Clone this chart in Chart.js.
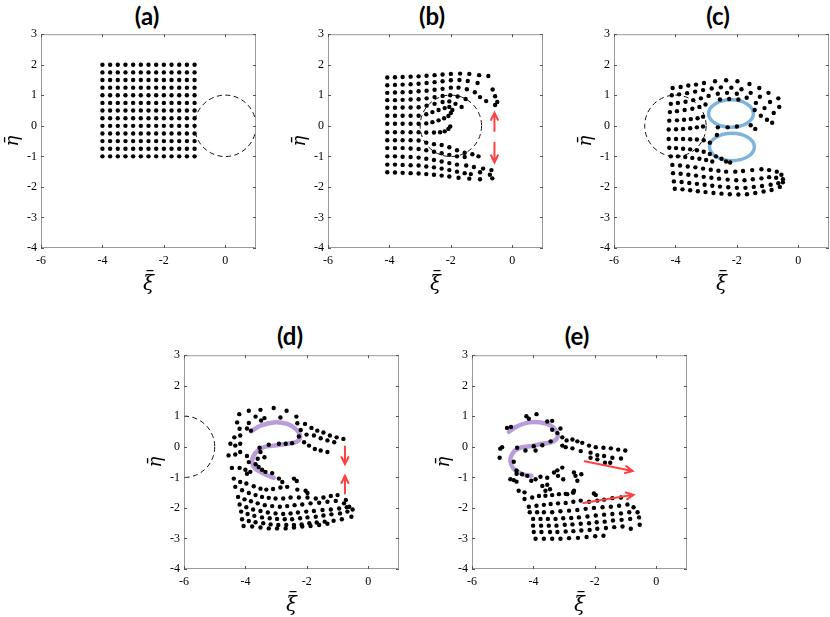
<!DOCTYPE html>
<html>
<head>
<meta charset="utf-8">
<script src="https://cdn.jsdelivr.net/npm/chart.js@4.4.0/dist/chart.umd.min.js"></script>
<style>
  body { margin: 0; width: 830px; height: 617px; background: #fff; position: relative; overflow: hidden; }
  canvas { position: absolute; }
  .ttl { position: absolute; font: bold 24px Lato, "Liberation Sans", sans-serif; transform: translate(-50%, -50%); color: #000; }
</style>
</head>
<body>
<div class="ttl" style="left:147px;top:15px">(a)</div>
<div class="ttl" style="left:432px;top:15px">(b)</div>
<div class="ttl" style="left:718px;top:15px">(c)</div>
<div class="ttl" style="left:290px;top:335px">(d)</div>
<div class="ttl" style="left:577px;top:335px">(e)</div>

<canvas id="pa" width="269" height="277" style="left:-3px;top:23px"></canvas>
<canvas id="pb" width="269" height="277" style="left:284px;top:23px"></canvas>
<canvas id="pc" width="269" height="277" style="left:570px;top:23px"></canvas>
<canvas id="pd" width="269" height="277" style="left:140px;top:344px"></canvas>
<canvas id="pe" width="269" height="277" style="left:428px;top:344px"></canvas>

<script>
// axes
const xTicks = [-6, -4, -2, 0];
const yTicks = [-4, -3, -2, -1, 0, 1, 2, 3];

// (a) initial square grid
const gridColsA = [-4, -3.75, -3.5, -3.25, -3, -2.75, -2.5, -2.25, -2, -1.75, -1.5, -1.25, -1];
const gridRowsA = [2, 1.75, 1.5, 1.25, 1, 0.75, 0.5, 0.25, 0, -0.25, -0.5, -0.75, -1];

// (b)
const pointsB = [
  [-4.07,1.58],[-3.82,1.59],[-3.57,1.60],[-3.31,1.61],[-3.05,1.62],[-2.79,1.64],[-2.53,1.66],[-2.27,1.68],[-2.00,1.70],[-1.70,1.71],[-1.40,1.70],[-1.08,1.66],[-0.78,1.63],
  [-4.07,1.33],[-3.82,1.34],[-3.57,1.35],[-3.31,1.36],[-3.05,1.38],[-2.79,1.40],[-2.53,1.43],[-2.27,1.46],[-2.00,1.49],[-1.72,1.50],[-1.45,1.47],[-1.13,1.40],[-0.64,1.19],
  [-4.07,1.08],[-3.82,1.09],[-3.57,1.10],[-3.31,1.11],[-3.05,1.13],[-2.79,1.15],[-2.53,1.18],[-2.27,1.21],[-2.00,1.25],[-1.75,1.25],[-1.48,1.20],[-1.22,1.10],[-0.56,0.97],
  [-4.07,0.84],[-3.82,0.84],[-3.57,0.85],[-3.31,0.86],[-3.05,0.87],[-2.79,0.90],[-2.53,0.94],[-2.27,0.98],[-2.02,1.00],[-1.78,0.96],[-1.52,0.88],[-1.05,0.94],[-0.49,0.78],
  [-4.07,0.59],[-3.82,0.59],[-3.57,0.60],[-3.31,0.60],[-3.05,0.61],[-2.79,0.66],[-2.53,0.72],[-2.27,0.78],[-2.05,0.80],[-1.85,0.72],[-1.65,0.62],[-0.85,0.81],[-0.56,0.68],
  [-4.07,0.33],[-3.82,0.33],[-3.57,0.33],[-3.31,0.33],[-3.05,0.33],[-2.80,0.38],[-2.60,0.45],[-2.40,0.52],[-2.20,0.58],[-2.05,0.62],[-1.95,0.52],
  [-4.07,0.07],[-3.82,0.07],[-3.57,0.07],[-3.31,0.07],[-3.05,0.07],[-2.80,0.08],[-2.60,0.12],[-2.40,0.18],[-2.22,0.25],[-2.08,0.32],[-2.00,0.42],
  [-4.07,-0.21],[-3.82,-0.21],[-3.57,-0.21],[-3.31,-0.21],[-3.05,-0.21],[-2.80,-0.22],[-2.55,-0.22],[-2.35,-0.21],[-2.20,-0.18],[-2.08,-0.10],[-2.02,-0.02],
  [-4.07,-0.47],[-3.82,-0.47],[-3.57,-0.47],[-3.31,-0.47],[-3.05,-0.48],[-2.80,-0.55],[-2.55,-0.60],[-2.30,-0.63],[-2.05,-0.70],[-1.80,-0.80],[-1.55,-0.88],[-1.30,-0.93],
  [-4.07,-0.73],[-3.82,-0.73],[-3.57,-0.73],[-3.31,-0.74],[-3.05,-0.76],[-2.80,-0.80],[-2.55,-0.85],[-2.30,-0.90],[-2.05,-0.95],[-1.80,-1.00],[-1.55,-1.02],[-1.10,-1.00],
  [-4.07,-1.00],[-3.82,-1.00],[-3.57,-1.01],[-3.31,-1.02],[-3.05,-1.04],[-2.80,-1.08],[-2.55,-1.12],[-2.30,-1.17],[-2.05,-1.22],[-1.80,-1.27],[-1.50,-1.30],[-1.25,-1.35],[-0.95,-1.40],[-0.68,-1.45],
  [-4.07,-1.27],[-3.82,-1.27],[-3.57,-1.28],[-3.31,-1.29],[-3.05,-1.30],[-2.80,-1.33],[-2.55,-1.36],[-2.30,-1.40],[-2.05,-1.45],[-1.80,-1.50],[-1.55,-1.55],[-1.35,-1.58],[-1.05,-1.52],[-0.73,-1.60],
  [-4.07,-1.52],[-3.82,-1.53],[-3.57,-1.54],[-3.31,-1.55],[-3.05,-1.56],[-2.80,-1.58],[-2.55,-1.60],[-2.30,-1.63],[-2.05,-1.66],[-1.75,-1.70],[-1.40,-1.73],[-1.05,-1.75],[-0.65,-1.72]
];

// (c)
const pointsC = [
  [-4.09,1.24],[-3.83,1.27],[-3.58,1.32],[-3.33,1.35],[-3.07,1.40],[-2.71,1.46],[-2.35,1.49],[-1.98,1.46],[-1.59,1.37],[-1.27,1.24],[-0.97,1.08],[-0.65,0.90],
  [-4.12,1.00],[-3.88,1.03],[-3.62,1.07],[-3.36,1.12],[-3.10,1.17],[-2.82,1.22],[-2.52,1.26],[-2.18,1.25],[-1.85,1.20],[-1.55,1.08],[-1.25,0.95],[-0.92,0.78],[-0.62,0.62],
  [-4.15,0.72],[-3.92,0.75],[-3.67,0.79],[-3.42,0.84],[-3.17,0.90],[-2.92,0.98],[-2.62,1.05],[-2.32,1.08],[-2.00,1.05],[-1.68,0.92],[-1.38,0.75],[-1.10,0.58],[-0.80,0.42],
  [-4.18,0.45],[-3.95,0.48],[-3.70,0.52],[-3.45,0.56],[-3.22,0.62],[-3.02,0.70],[-2.55,0.86],[-2.25,0.88],[-1.95,0.86],[-1.42,0.52],[-1.22,0.33],[-1.02,0.20],[-0.85,0.10],
  [-4.20,0.17],[-3.95,0.18],[-3.72,0.20],[-3.50,0.22],[-3.28,0.25],[-3.10,0.30],
  [-4.22,-0.12],[-3.98,-0.11],[-3.75,-0.10],[-3.52,-0.08],[-3.30,-0.05],[-3.10,-0.02],[-2.62,-0.05],[-2.30,-0.05],[-2.00,-0.02],[-1.55,0.02],[-1.40,-0.10],
  [-4.22,-0.43],[-3.98,-0.43],[-3.75,-0.43],[-3.52,-0.44],[-3.30,-0.45],[-3.08,-0.47],[-2.88,-0.55],[-2.65,-0.30],
  [-4.20,-0.72],[-3.98,-0.73],[-3.75,-0.75],[-3.52,-0.77],[-3.30,-0.80],[-3.08,-0.85],[-2.88,-0.92],[-2.68,-1.00],[-2.50,-1.08],[-2.35,-1.17],[-2.22,-1.20],
  [-4.15,-1.00],[-3.92,-1.00],[-3.68,-1.02],[-3.45,-1.05],[-3.22,-1.08],[-3.00,-1.12],[-2.80,-1.17],
  [-4.10,-1.28],[-3.85,-1.30],[-3.60,-1.33],[-3.35,-1.36],[-3.10,-1.40],[-2.85,-1.44],[-2.60,-1.47],[-2.35,-1.50],[-2.05,-1.50],[-1.80,-1.48],[-1.50,-1.45],[-1.20,-1.42],[-0.95,-1.45],[-0.70,-1.50],[-0.55,-1.60],
  [-4.08,-1.55],[-3.83,-1.57],[-3.58,-1.60],[-3.33,-1.63],[-3.08,-1.67],[-2.83,-1.70],[-2.58,-1.73],[-2.30,-1.76],[-2.02,-1.78],[-1.75,-1.78],[-1.48,-1.75],[-1.20,-1.72],[-0.95,-1.68],[-0.72,-1.70],[-0.50,-1.75],
  [-4.05,-1.82],[-3.80,-1.84],[-3.55,-1.87],[-3.30,-1.90],[-3.05,-1.93],[-2.80,-1.96],[-2.55,-1.99],[-2.28,-2.01],[-2.00,-2.03],[-1.72,-2.03],[-1.45,-2.00],[-1.18,-1.97],[-0.90,-1.93],[-0.65,-1.88],[-0.50,-1.85],
  [-4.02,-2.06],[-3.77,-2.08],[-3.52,-2.11],[-3.27,-2.14],[-3.02,-2.17],[-2.76,-2.20],[-2.50,-2.22],[-2.23,-2.24],[-1.95,-2.25],[-1.67,-2.24],[-1.40,-2.20],[-1.13,-2.15],[-0.87,-2.10],[-0.60,-2.00]
];

// (d)
const pointsD = [
  [-4.20,1.07],[-3.89,1.18],[-3.51,1.21],[-3.08,1.27],[-2.66,1.18],
  [-3.67,0.99],[-3.38,0.94],[-2.86,0.96],[-2.34,0.99],
  [-4.27,0.80],[-3.89,0.78],[-3.49,0.86],[-2.31,0.77],[-2.06,0.75],[-1.85,0.62],[-1.66,0.53],[-1.46,0.47],[-1.25,0.37],[-1.03,0.31],[-0.81,0.26],
  [-4.19,0.59],[-3.95,0.60],[-2.20,0.55],[-2.01,0.40],[-1.77,0.37],[-1.55,0.28],[-1.33,0.21],[-1.11,0.15],
  [-4.36,0.31],[-4.17,0.37],[-3.82,0.53],[-2.26,0.34],[-2.09,0.15],[-1.93,0.04],[-1.74,-0.07],[-1.55,-0.12],[-1.33,-0.17],
  [-4.49,0.10],[-4.33,0.04],[-4.17,0.10],[-3.54,-0.03],[-3.24,0.07],[-2.91,0.10],[-2.69,0.10],[-2.48,0.12],
  [-4.55,-0.28],[-4.33,-0.25],[-4.17,-0.17],[-3.95,-0.30],[-3.51,-0.17],[-3.38,-0.34],[-3.60,-0.39],
  [-4.44,-0.69],[-4.19,-0.69],[-4.00,-0.75],[-3.84,-0.82],[-3.57,-0.66],[-3.46,-0.75],[-3.35,-0.82],[-3.13,-0.86],
  [-3.89,-0.50],[-3.67,-0.57],[-3.95,-0.88],
  [-2.91,-1.04],[-2.80,-1.15],[-2.42,-1.04],[-2.33,-1.12],
  [-4.38,-1.04],[-4.17,-1.15],[-3.97,-1.20],[-3.73,-1.29],[-3.51,-1.37],[-3.32,-1.40],[-3.10,-1.38],[-2.86,-1.33],[-2.64,-1.31],[-2.31,-1.40],[-2.04,-1.44],[-1.98,-1.51],
  [-4.33,-1.31],[-4.11,-1.42],[-3.89,-1.51],[-3.67,-1.58],[-3.46,-1.64],[-3.24,-1.67],[-3.02,-1.69],[-2.77,-1.69],[-2.53,-1.66],[-2.26,-1.66],[-1.98,-1.66],[-1.71,-1.69],[-1.46,-1.66],[-1.22,-1.61],[-1.00,-1.58],[-0.73,-1.74],
  [-4.24,-1.64],[-4.03,-1.72],[-3.82,-1.78],[-3.60,-1.85],[-3.37,-1.91],[-3.13,-1.94],[-2.88,-1.96],[-2.64,-1.94],[-2.40,-1.91],[-2.15,-1.89],[-1.88,-1.85],[-1.60,-1.83],[-1.33,-1.80],[-1.06,-1.77],[-0.79,-1.85],[-0.62,-1.96],
  [-4.19,-1.89],[-3.97,-1.98],[-3.75,-2.05],[-3.51,-2.10],[-3.27,-2.15],[-3.02,-2.18],[-2.77,-2.20],[-2.53,-2.18],[-2.29,-2.15],[-2.02,-2.12],[-1.77,-2.10],[-1.49,-2.07],[-1.22,-2.05],[-0.95,-2.02],[-0.70,-1.98],[-0.51,-2.05],
  [-4.14,-2.12],[-3.93,-2.20],[-3.71,-2.26],[-3.46,-2.31],[-3.21,-2.34],[-2.97,-2.36],[-2.72,-2.37],[-2.48,-2.37],[-2.22,-2.34],[-1.98,-2.31],[-1.71,-2.29],[-1.46,-2.25],[-1.20,-2.21],[-0.92,-2.18],[-0.68,-2.12],
  [-4.11,-2.37],[-3.89,-2.43],[-3.67,-2.47],[-3.42,-2.50],[-3.18,-2.54],[-2.93,-2.56],[-2.67,-2.56],[-2.42,-2.56],[-2.17,-2.54],[-1.92,-2.50],[-1.68,-2.48],[-1.42,-2.45],[-1.13,-2.42],[-0.86,-2.37],[-0.55,-2.29],
  [-4.06,-2.59],[-3.78,-2.61],[-3.51,-2.64],[-3.24,-2.67],[-2.97,-2.67],[-2.69,-2.67],[-2.42,-2.64],[-2.15,-2.61],[-1.88,-2.59],[-1.60,-2.56],[-1.33,-2.52]
];

// (e)
const pointsE = [
  [-4.86,0.62],[-4.73,0.65],[-4.23,1.00],[-4.15,0.92],[-3.90,1.07],[-3.55,0.83],[-3.39,0.85],[-3.12,0.60],[-3.22,0.45],[-3.39,0.56],
  [-5.02,-0.01],[-5.08,-0.06],[-5.10,-0.36],
  [-4.53,-0.03],[-4.26,-0.12],[-3.99,0.02],[-3.93,-0.12],[-3.71,0.05],[-3.44,0.18],
  [-3.06,0.31],[-2.92,0.21],[-2.73,0.24],[-2.57,0.18],[-2.41,0.13],[-2.19,0.04],[-1.97,-0.01],[-1.72,-0.03],[-1.48,-0.05],[-1.24,-0.09],[-1.01,-0.12],
  [-3.06,0.04],[-2.95,-0.01],[-2.73,-0.05],[-2.46,-0.14],[-2.14,-0.19],[-1.92,-0.27],[-1.70,-0.30],[-1.43,-0.36],[-1.15,-0.38],
  [-2.14,-0.36],[-1.92,-0.41],[-1.67,-0.52],[-1.50,-0.52],
  [-4.64,-0.49],[-4.55,-0.77],[-4.55,-0.88],[-4.64,-1.09],[-4.55,-1.14],[-4.75,-1.06],[-4.48,-1.44],[-4.29,-1.49],
  [-4.37,-0.90],[-4.20,-0.95],[-4.07,-1.11],[-3.93,-1.06],[-3.77,-0.98],[-3.55,-1.01],[-3.71,-1.28],[-3.55,-1.24],[-3.46,-1.39],[-3.61,-1.44],
  [-3.33,-0.84],[-3.22,-0.77],[-3.06,-0.68],[-3.20,-0.95],[-3.03,-1.06],[-2.68,-0.84],[-2.63,-0.95],[-2.44,-0.90],[-2.57,-1.11],[-2.68,-1.44],[-2.71,-1.49],[-2.90,-1.55],
  [-2.03,-1.53],[-1.97,-1.58],
  [-4.29,-1.71],[-4.04,-1.66],[-3.82,-1.61],[-3.61,-1.60],[-3.39,-1.58],[-3.17,-1.55],[-2.95,-1.54],[-2.70,-1.50],
  [-4.15,-1.96],[-3.90,-1.93],[-3.66,-1.90],[-3.44,-1.87],[-3.20,-1.85],[-2.95,-1.84],[-2.70,-1.80],[-2.46,-1.76],[-2.19,-1.80],[-1.92,-1.76],[-1.70,-1.73],[-1.43,-1.68],[-1.15,-1.66],
  [-4.12,-2.14],[-3.88,-2.14],[-3.66,-2.14],[-3.39,-2.14],[-3.12,-2.11],[-2.84,-2.09],[-2.57,-2.07],[-2.30,-2.03],[-2.03,-2.00],[-1.75,-1.98],[-1.48,-1.96],[-1.21,-1.93],[-0.94,-1.89],[-0.74,-1.98],[-0.61,-2.14],
  [-4.01,-2.36],[-3.77,-2.36],[-3.53,-2.36],[-3.28,-2.36],[-3.03,-2.34],[-2.77,-2.33],[-2.52,-2.31],[-2.24,-2.28],[-1.97,-2.25],[-1.70,-2.22],[-1.43,-2.20],[-1.15,-2.18],[-0.88,-2.14],[-0.56,-2.31],
  [-4.01,-2.58],[-3.75,-2.58],[-3.50,-2.58],[-3.25,-2.58],[-2.98,-2.55],[-2.73,-2.54],[-2.46,-2.52],[-2.19,-2.50],[-1.94,-2.47],[-1.68,-2.45],[-1.41,-2.41],[-1.13,-2.39],[-0.85,-2.36],[-0.54,-2.55],
  [-3.99,-2.79],[-3.74,-2.79],[-3.46,-2.79],[-3.22,-2.79],[-2.95,-2.77],[-2.70,-2.76],[-2.44,-2.74],[-2.17,-2.72],[-1.92,-2.68],[-1.64,-2.66],[-1.37,-2.63],[-1.10,-2.61],[-0.83,-2.68],
  [-3.93,-3.01],[-3.66,-3.01],[-3.39,-3.01],[-3.12,-3.01],[-2.84,-2.99],[-2.55,-2.98],[-2.27,-2.95],[-1.99,-2.93],[-1.72,-2.91]
];

// dashed cylinder outlines: [cx, cy, r]
const circlesA = [[0, 0, 1]];
const circlesB = [[-2, 0, 1]];
const circlesC = [[-4, 0, 1]];
const circlesD = [[-6, 0, 1]];

// blue vortex loops in (c): [cx, cy, rx, ry]
const ellipsesC = [[-2.19, 0.40, 0.73, 0.45], [-2.16, -0.69, 0.73, 0.45]];

// purple S-curves
const curveD = [[-3.81,0.51],[-3.51,0.69],[-3.08,0.80],[-2.64,0.75],[-2.37,0.59],[-2.22,0.37],[-2.31,0.18],[-2.64,0.10],[-3.08,0.04],[-3.46,-0.03],[-3.68,-0.21],[-3.78,-0.44],[-3.73,-0.66],[-3.51,-0.82],[-3.29,-0.93],[-3.08,-1.01]];
const curveE = [[-4.80,0.49],[-4.53,0.67],[-4.15,0.80],[-3.77,0.80],[-3.44,0.70],[-3.25,0.51],[-3.22,0.31],[-3.39,0.16],[-3.71,0.10],[-4.10,0.02],[-4.48,-0.05],[-4.69,-0.23],[-4.75,-0.47],[-4.66,-0.70],[-4.48,-0.84],[-4.26,-0.92],[-4.07,-0.95]];

// red arrows: [x0, y0, x1, y1]
const arrowsB = [[-0.58, -0.17, -0.58, 0.43], [-0.58, -0.55, -0.58, -1.20]];
const arrowsD = [[-0.76, 0.01, -0.76, -0.57], [-0.76, -1.53, -0.76, -0.95]];
const arrowsE = [[-2.33, -0.47, -0.77, -0.79], [-2.37, -1.84, -0.74, -1.57]];

const overlay = {
  id: 'overlay',
  beforeDatasetsDraw(chart, args, opts) {
    const { ctx, chartArea: a, scales: { x, y } } = chart;
    ctx.save();
    ctx.beginPath();
    ctx.rect(a.left, a.top, a.width, a.height);
    ctx.clip();
    (opts.circles || []).forEach(c => {
      const cx = x.getPixelForValue(c[0]);
      const cy = y.getPixelForValue(c[1]);
      const r = x.getPixelForValue(c[0] + c[2]) - cx;
      ctx.beginPath();
      ctx.setLineDash([5, 3.5]);
      ctx.lineWidth = 1;
      ctx.strokeStyle = '#111';
      ctx.arc(cx, cy, r, 0, Math.PI * 2);
      ctx.stroke();
    });
    ctx.setLineDash([]);
    (opts.ellipses || []).forEach(e => {
      const cx = x.getPixelForValue(e[0]);
      const cy = y.getPixelForValue(e[1]);
      const rx = x.getPixelForValue(e[0] + e[2]) - cx;
      const ry = cy - y.getPixelForValue(e[1] + e[3]);
      ctx.beginPath();
      ctx.lineWidth = 3.5;
      ctx.strokeStyle = '#7db3dc';
      ctx.ellipse(cx, cy, rx, ry, 0, 0, Math.PI * 2);
      ctx.stroke();
    });
    ctx.restore();
  },
  afterDatasetsDraw(chart, args, opts) {
    const { ctx, chartArea: a, scales: { x, y } } = chart;
    ctx.save();
    (opts.arrows || []).forEach(ar => {
      const x0 = x.getPixelForValue(ar[0]), y0 = y.getPixelForValue(ar[1]);
      const x1 = x.getPixelForValue(ar[2]), y1 = y.getPixelForValue(ar[3]);
      const ang = Math.atan2(y1 - y0, x1 - x0);
      ctx.strokeStyle = '#ff4040';
      ctx.lineWidth = 2;
      ctx.lineCap = 'round';
      ctx.beginPath();
      ctx.moveTo(x0, y0);
      ctx.lineTo(x1, y1);
      ctx.moveTo(x1 - 8 * Math.cos(ang - 0.45), y1 - 8 * Math.sin(ang - 0.45));
      ctx.lineTo(x1, y1);
      ctx.lineTo(x1 - 8 * Math.cos(ang + 0.45), y1 - 8 * Math.sin(ang + 0.45));
      ctx.stroke();
    });
    // box and inward ticks
    ctx.strokeStyle = '#9a9a9a';
    ctx.lineWidth = 1;
    ctx.lineCap = 'butt';
    ctx.strokeRect(a.left + 0.5, a.top + 0.5, a.width - 1, a.height - 1);
    ctx.strokeStyle = '#555';
    ctx.beginPath();
    xTicks.forEach(v => {
      const px = Math.round(x.getPixelForValue(v)) + 0.5;
      ctx.moveTo(px, a.bottom); ctx.lineTo(px, a.bottom - 3);
      ctx.moveTo(px, a.top); ctx.lineTo(px, a.top + 3);
    });
    yTicks.forEach(v => {
      const py = Math.round(y.getPixelForValue(v)) + 0.5;
      ctx.moveTo(a.left, py); ctx.lineTo(a.left + 3, py);
      ctx.moveTo(a.right, py); ctx.lineTo(a.right - 3, py);
    });
    ctx.stroke();
    // x axis label: xi with a bar over it
    const cx = (a.left + a.right) / 2;
    ctx.fillStyle = '#000';
    ctx.font = 'italic 20px "DejaVu Serif", serif';
    ctx.textAlign = 'center';
    ctx.textBaseline = 'alphabetic';
    ctx.fillText('ξ', cx, a.bottom + 42);
    ctx.fillRect(cx - 2, a.bottom + 22, 7, 1.2);
    ctx.restore();
  }
};

const tickFont = { family: '"Liberation Serif", serif', size: 12 };
const labelFont = { family: '"DejaVu Serif", serif', style: 'italic', size: 18 };

function makePanel(id, points, extra) {
  const datasets = [{
    data: points.map(p => ({ x: p[0], y: p[1] })),
    pointRadius: 2.2,
    pointBackgroundColor: '#000',
    pointBorderWidth: 0,
    showLine: false
  }];
  if (extra.curve) {
    datasets.push({
      data: extra.curve.map(p => ({ x: p[0], y: p[1] })),
      showLine: true,
      borderColor: 'rgba(176,146,214,0.9)',
      borderWidth: 4.5,
      borderCapStyle: 'round',
      pointRadius: 0,
      tension: 0.45
    });
  }
  new Chart(document.getElementById(id), {
    type: 'scatter',
    data: { datasets },
    plugins: [overlay],
    options: {
      responsive: false,
      animation: false,
      devicePixelRatio: 1,
      events: [],
      layout: { padding: { top: 10, right: 10, left: 0, bottom: 0 } },
      plugins: {
        legend: { display: false },
        tooltip: { enabled: false },
        overlay: { circles: extra.circles, ellipses: extra.ellipses, arrows: extra.arrows }
      },
      scales: {
        x: {
          type: 'linear', min: -6, max: 1,
          afterBuildTicks: s => { s.ticks = xTicks.map(v => ({ value: v })); },
          afterFit: s => { s.height = 52; },
          grid: { display: false, drawTicks: false },
          border: { display: false },
          ticks: { color: '#000', font: tickFont, padding: 6, maxRotation: 0, callback: v => String(v) }
        },
        y: {
          type: 'linear', min: -4, max: 3,
          afterBuildTicks: s => { s.ticks = yTicks.map(v => ({ value: v })); },
          afterFit: s => { s.width = 44; },
          grid: { display: false, drawTicks: false },
          border: { display: false },
          ticks: { color: '#000', font: tickFont, padding: 4, callback: v => String(v) },
          title: { display: true, text: 'η\u0304', color: '#000', font: labelFont, padding: { top: 6, bottom: 0 } }
        }
      }
    }
  });
}

const pointsA = [];
gridRowsA.forEach(yv => gridColsA.forEach(xv => pointsA.push([xv, yv])));

makePanel('pa', pointsA, { circles: circlesA });
makePanel('pb', pointsB, { circles: circlesB, arrows: arrowsB });
makePanel('pc', pointsC, { circles: circlesC, ellipses: ellipsesC });
makePanel('pd', pointsD, { circles: circlesD, curve: curveD, arrows: arrowsD });
makePanel('pe', pointsE, { curve: curveE, arrows: arrowsE });
</script>
</body>
</html>
